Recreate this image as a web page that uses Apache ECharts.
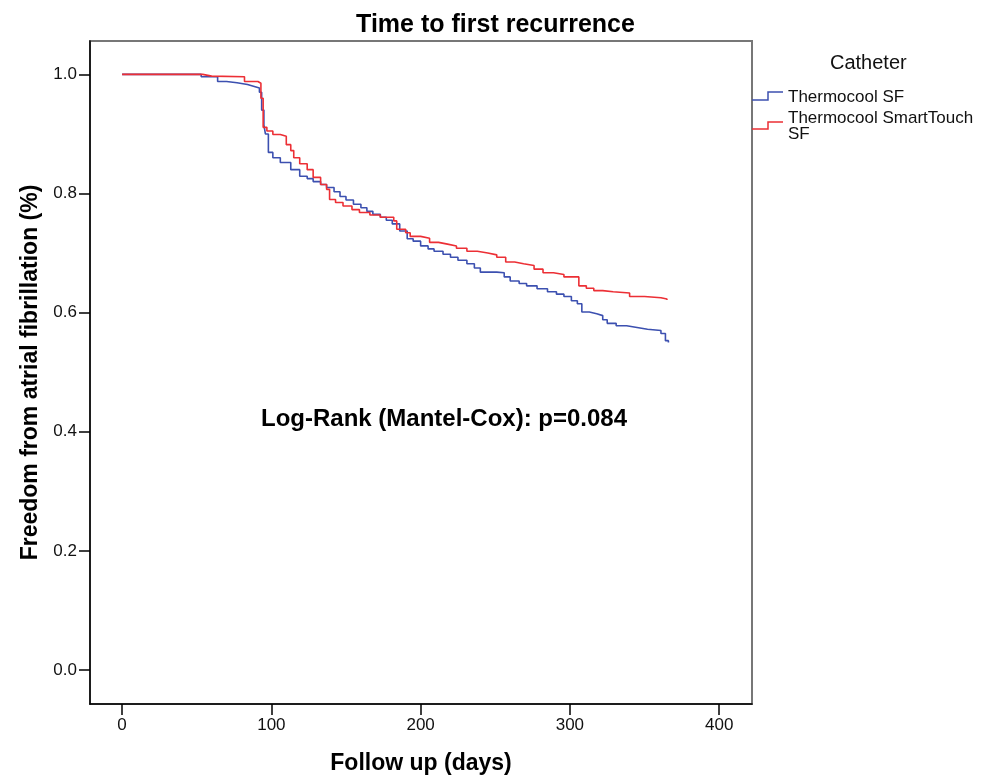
<!DOCTYPE html>
<html>
<head>
<meta charset="utf-8">
<script src="https://cdn.jsdelivr.net/npm/echarts@6.0.0/dist/echarts.min.js"></script>
<style>
  html, body { margin: 0; padding: 0; background: #fff; }
  #chart { width: 991px; height: 780px; }
</style>
</head>
<body>
<div id="chart"></div>
<script>
// Kaplan-Meier step curves (day, survival)
const sfDays = [0, 53, 64, 70, 77, 84, 88, 92, 93.5, 95, 96, 98, 101, 106, 113, 119, 124, 128, 133, 137, 142, 146, 150, 155, 160, 164, 168, 173, 177, 181, 186, 191, 195, 200, 205, 209, 215, 220, 225, 231, 236, 240, 251, 256, 260, 266, 271, 278, 285, 291, 296, 301, 305, 308, 313, 318, 322, 325, 331, 338, 345, 352, 361, 364, 366]
const sfValues = [1.0, 0.996, 0.988, 0.986, 0.983, 0.980, 0.977, 0.970, 0.940, 0.915, 0.900, 0.869, 0.860, 0.852, 0.840, 0.829, 0.825, 0.820, 0.815, 0.810, 0.803, 0.795, 0.789, 0.782, 0.776, 0.770, 0.765, 0.760, 0.755, 0.749, 0.737, 0.724, 0.720, 0.712, 0.707, 0.703, 0.698, 0.693, 0.688, 0.682, 0.675, 0.668, 0.667, 0.660, 0.653, 0.649, 0.645, 0.640, 0.635, 0.631, 0.627, 0.620, 0.615, 0.601, 0.598, 0.595, 0.588, 0.582, 0.578, 0.575, 0.572, 0.570, 0.565, 0.553, 0.550]

const stDays = [0, 54, 60, 82, 91, 93, 94.5, 97, 101, 106, 110, 113, 115, 119, 124, 128, 133, 137, 139, 143, 148, 154, 159, 166, 173, 182, 184, 190, 193, 200, 206, 212, 218, 224, 231, 238, 245, 251, 257, 263, 269, 276, 282, 289, 296, 306, 311, 316, 322, 329, 340, 350, 361, 365]
const stValues = [1.0, 0.997, 0.996, 0.988, 0.985, 0.960, 0.911, 0.905, 0.899, 0.896, 0.882, 0.872, 0.860, 0.850, 0.840, 0.827, 0.815, 0.807, 0.790, 0.785, 0.779, 0.773, 0.768, 0.764, 0.760, 0.754, 0.740, 0.734, 0.728, 0.725, 0.718, 0.715, 0.712, 0.708, 0.703, 0.700, 0.697, 0.693, 0.685, 0.682, 0.679, 0.673, 0.667, 0.664, 0.660, 0.645, 0.641, 0.637, 0.635, 0.633, 0.627, 0.625, 0.623, 0.621]

const xTicks = [0, 100, 200, 300, 400]
const yTicks = [0, 0.2, 0.4, 0.6, 0.8, 1.0]

const blue = '#3c50b0'
const red = '#ec2f35'
const font = 'Liberation Sans, Arial, sans-serif'

const pairs = (xs, ys) => xs.map((x, i) => [x, ys[i]])

const myChart = echarts.init(document.getElementById('chart'))
const option = {
  animation: false,
  backgroundColor: '#fff',
  title: {
    text: 'Time to first recurrence',
    left: 'center',
    top: 8,
    textStyle: { fontFamily: font, fontSize: 25, fontWeight: 'bold', color: '#000' },
  },
  grid: {
    left: 90, top: 41, width: 662, height: 666,
    show: true, borderColor: '#777', borderWidth: 2, backgroundColor: '#fff',
  },
  xAxis: {
    type: 'value',
    min: -21.5,
    max: 422,
    name: 'Follow up (days)',
    nameLocation: 'middle',
    nameGap: 48,
    nameTextStyle: { fontFamily: font, fontSize: 23, fontWeight: 'bold', color: '#000' },
    axisLine: { onZero: false, lineStyle: { color: '#000', width: 1.5 } },
    axisTick: { customValues: xTicks, length: 11, lineStyle: { color: '#000', width: 1.5 } },
    axisLabel: { customValues: xTicks, margin: 13, fontFamily: font, fontSize: 17, color: '#111' },
    splitLine: { show: false },
  },
  yAxis: {
    type: 'value',
    min: -0.057,
    max: 1.056,
    name: 'Freedom from atrial fibrillation (%)',
    nameLocation: 'middle',
    nameGap: 48,
    nameTextStyle: { fontFamily: font, fontSize: 23, fontWeight: 'bold', color: '#000' },
    axisLine: { onZero: false, lineStyle: { color: '#000', width: 1.5 } },
    axisTick: { customValues: yTicks, length: 11, lineStyle: { color: '#000', width: 1.5 } },
    axisLabel: {
      customValues: yTicks, margin: 13, fontFamily: font, fontSize: 17, color: '#111',
      formatter: (v) => v.toFixed(1),
    },
    splitLine: { show: false },
  },
  graphic: [
    {
      type: 'text', left: 261, top: 407,
      style: { text: 'Log-Rank (Mantel-Cox): p=0.084', font: 'bold 24px ' + font, fill: '#000' },
    },
    {
      type: 'text', left: 830, top: 53,
      style: { text: 'Catheter', font: '20px ' + font, fill: '#111' },
    },
    {
      type: 'polyline',
      shape: { points: [[752, 100], [768, 100], [768, 92], [783, 92]] },
      style: { stroke: blue, lineWidth: 1.5, fill: null },
    },
    {
      type: 'text', left: 788, top: 89,
      style: { text: 'Thermocool SF', font: '17px ' + font, fill: '#111' },
    },
    {
      type: 'polyline',
      shape: { points: [[752, 129], [768, 129], [768, 122], [783, 122]] },
      style: { stroke: red, lineWidth: 1.5, fill: null },
    },
    {
      type: 'text', left: 788, top: 110,
      style: { text: 'Thermocool SmartTouch\nSF', font: '17px ' + font, fill: '#111', lineHeight: 16 },
    },
  ],
  series: [
    {
      name: 'Thermocool SF',
      type: 'line',
      step: 'end',
      showSymbol: false,
      data: pairs(sfDays, sfValues),
      lineStyle: { color: blue, width: 1.6 },
      itemStyle: { color: blue },
    },
    {
      name: 'Thermocool SmartTouch SF',
      type: 'line',
      step: 'end',
      showSymbol: false,
      data: pairs(stDays, stValues),
      lineStyle: { color: red, width: 1.6 },
      itemStyle: { color: red },
    },
  ],
}
option && myChart.setOption(option)
</script>
</body>
</html>
